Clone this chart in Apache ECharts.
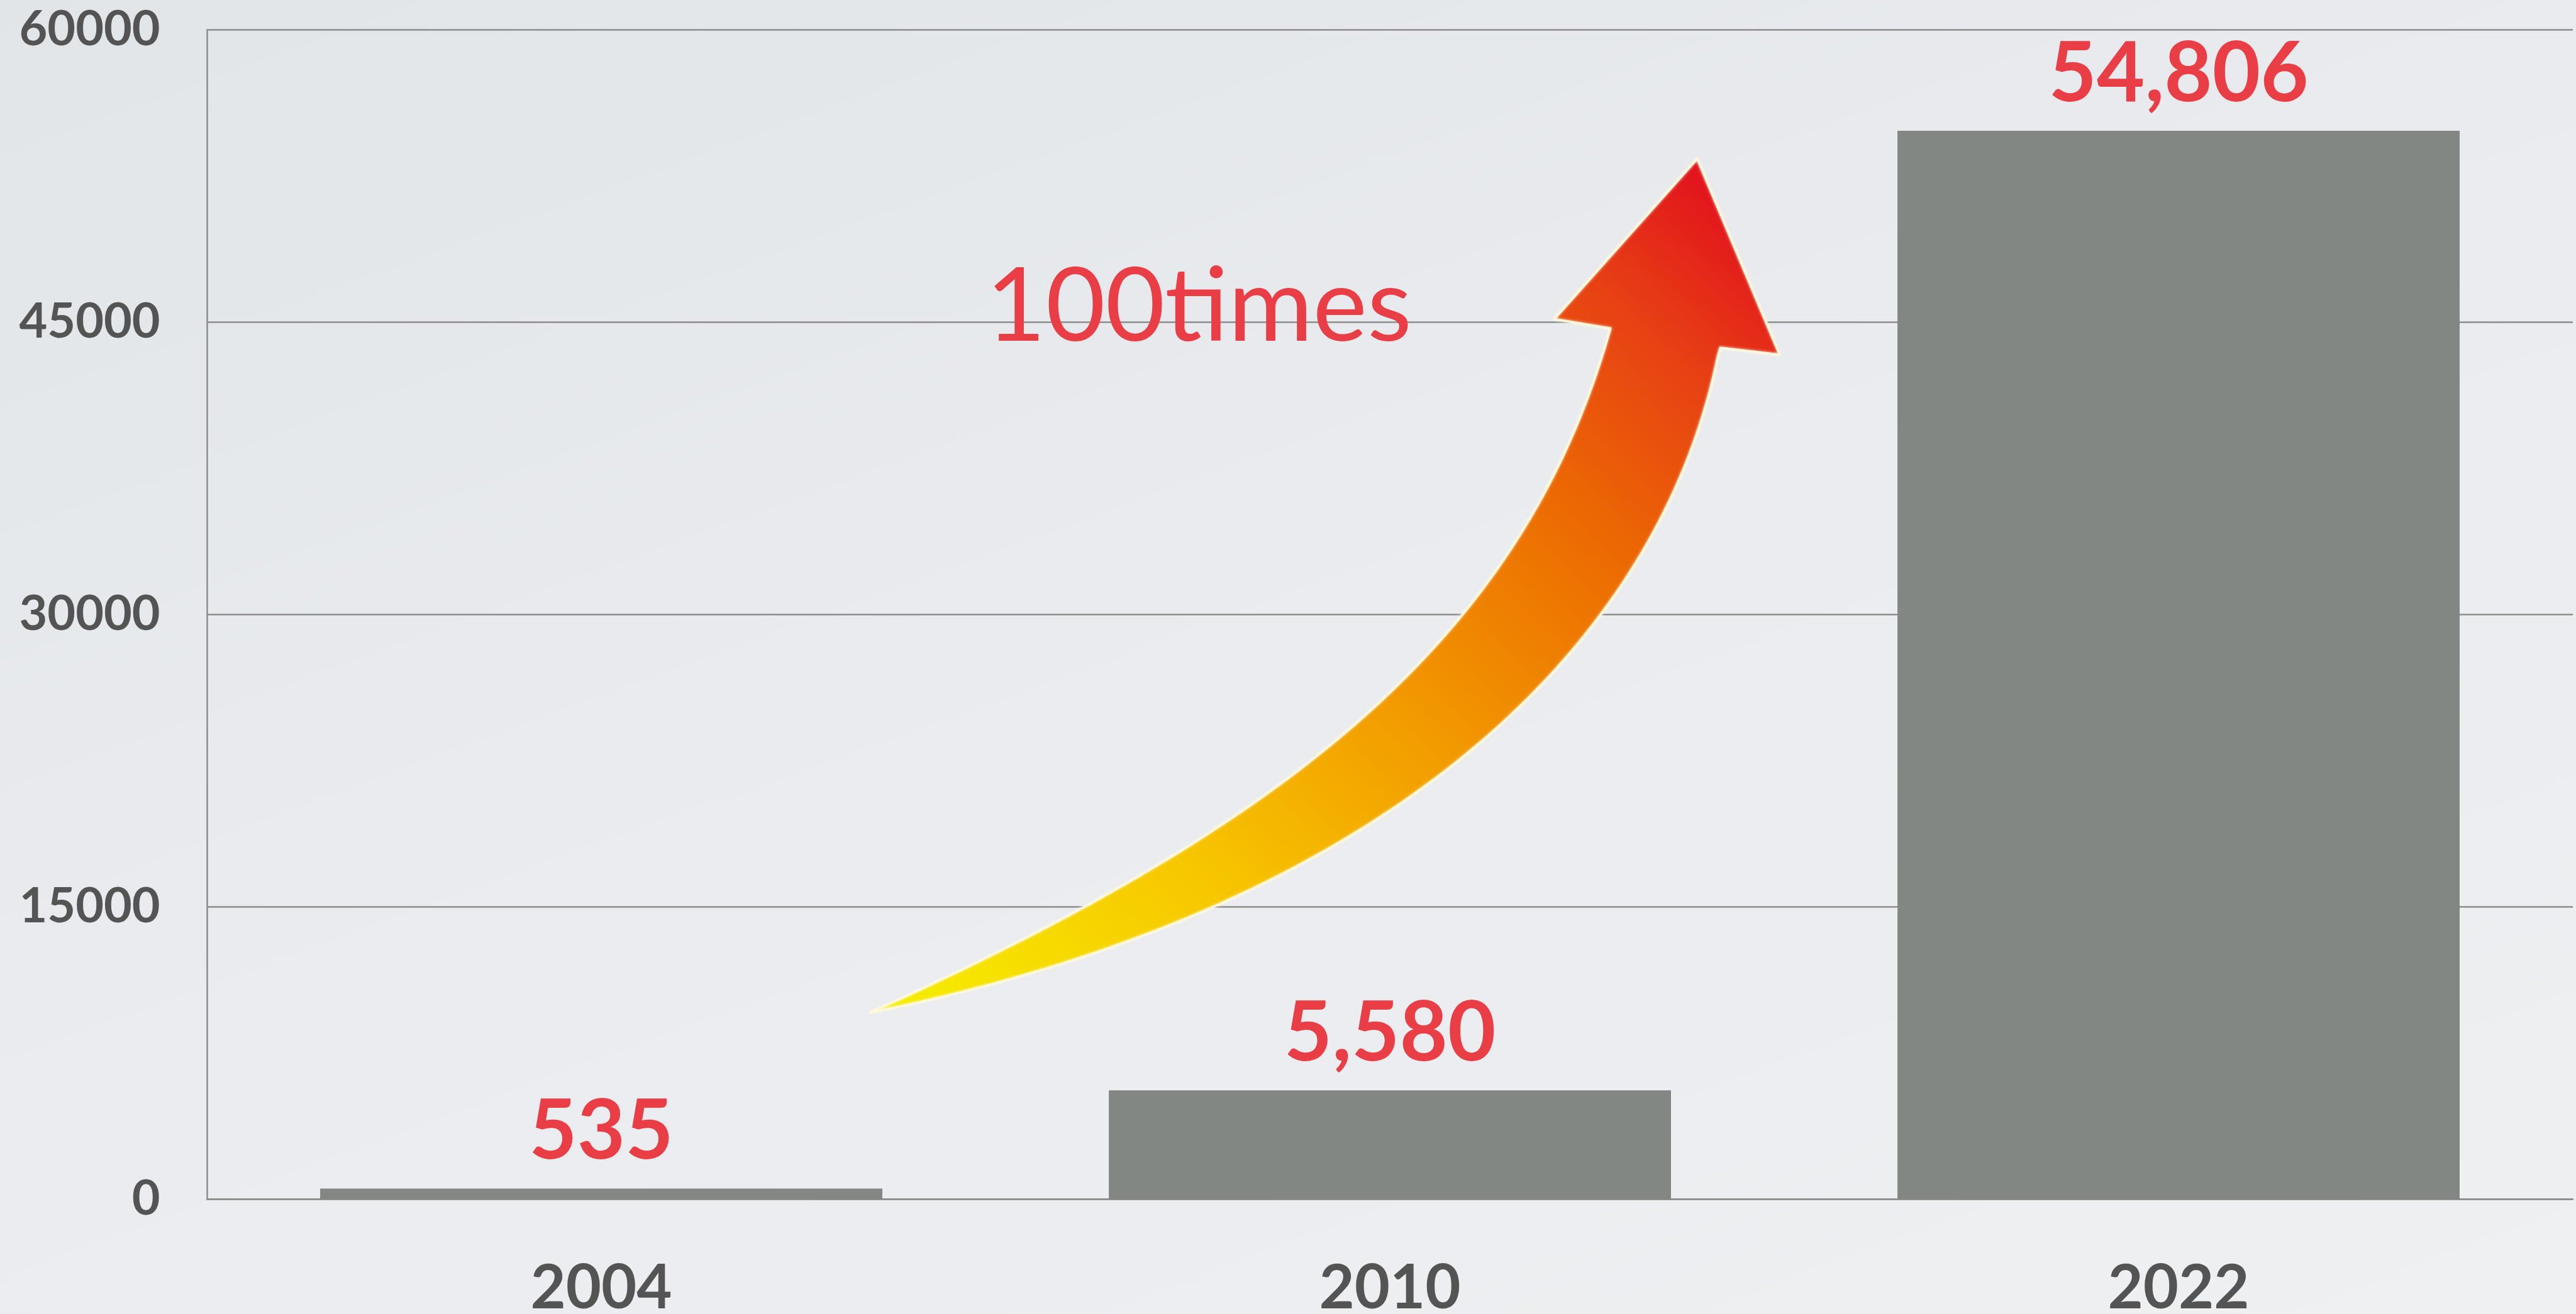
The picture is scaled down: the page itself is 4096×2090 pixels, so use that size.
<!DOCTYPE html>
<html>
<head>
<meta charset="utf-8">
<title>Growth 2004–2022</title>
<script src="https://cdn.jsdelivr.net/npm/echarts@6/dist/echarts.min.js"></script>
<style>
  html, body { margin: 0; padding: 0; }
  body {
    width: 4096px; height: 2090px; overflow: hidden;
    background: linear-gradient(160deg, #E2E5E8 0%, #E9EBEE 45%, #EFF0F2 100%);
  }
  #chart { width: 4096px; height: 2090px; }
</style>
</head>
<body>
<div id="chart"></div>
<script>
// ---- data ----
const categories = ['2004', '2010', '2022'];
const values = [535, 5580, 54806];
const yTickValues = [0, 15000, 30000, 45000, 60000];
const annotationText = '100times';

// ---- layout scale (drawing units -> window pixels) ----
const S = 4096 / 4133;

// Curved growth arrow, in drawing units: two cubic edges joined by the head.
const arrowUpperEdge = [[1396, 1625], [2096, 1310], [2449, 1007], [2584, 527]];
const arrowHead = [[2494, 512], [2723, 255], [2855, 569], [2760, 558]];
const arrowLowerEdge = [[2756, 572], [2656, 1060], [2196, 1465], [1396, 1625]];

function cubic(c, steps) {
  const out = [];
  for (let k = 0; k <= steps; k++) {
    const t = k / steps, u = 1 - t;
    const a = u * u * u, b = 3 * u * u * t, d = 3 * u * t * t, e = t * t * t;
    out.push([
      a * c[0][0] + b * c[1][0] + d * c[2][0] + e * c[3][0],
      a * c[0][1] + b * c[1][1] + d * c[2][1] + e * c[3][1]
    ]);
  }
  return out;
}

const arrowPoints = []
  .concat(cubic(arrowUpperEdge, 80))
  .concat(arrowHead)
  .concat(cubic(arrowLowerEdge, 80).slice(0, -1))
  .map(p => [p[0] * S, p[1] * S]);

const red = '#E93E46';
const axisGray = '#8C8C8C';
const labelGray = '#545454';
const font = 'Lato, "Open Sans", sans-serif';

const chart = echarts.init(document.getElementById('chart'), null, { renderer: 'canvas' });

chart.setOption({
  backgroundColor: 'transparent',
  animation: false,
  grid: {
    left: 332 * S, right: 5 * S, top: 47.5 * S, bottom: (2109 - 1924.5) * S,
    containLabel: false, outerBoundsMode: 'none'
  },
  xAxis: {
    type: 'category',
    data: categories,
    axisTick: { show: false },
    axisLine: { show: true, lineStyle: { color: axisGray, width: 2.5 } },
    axisLabel: {
      color: labelGray, fontFamily: font, fontWeight: 'bold',
      fontSize: 98 * S, margin: 95 * S
    }
  },
  yAxis: {
    type: 'value',
    min: yTickValues[0],
    max: yTickValues[yTickValues.length - 1],
    interval: yTickValues[1] - yTickValues[0],
    axisTick: { show: false },
    axisLine: { show: true, lineStyle: { color: axisGray, width: 2.5 } },
    splitLine: { show: true, lineStyle: { color: axisGray, width: 2.5 } },
    axisLabel: {
      color: labelGray, fontFamily: font, fontWeight: 'bold',
      fontSize: 78 * S, margin: 75 * S,
      formatter: v => String(v)
    }
  },
  series: [{
    type: 'bar',
    data: values,
    barWidth: 902 * S,
    itemStyle: { color: '#828784' },
    label: {
      show: true,
      position: 'top',
      distance: 24 * S,
      color: red,
      fontFamily: font,
      fontWeight: 'bold',
      fontSize: 133 * S,
      formatter: p => p.value.toLocaleString('en-US')
    }
  }],
  graphic: [
    {
      type: 'polygon',
      z: 20,
      shape: { points: arrowPoints },
      style: {
        fill: {
          type: 'linear', x: 0, y: 1, x2: 0.88, y2: 0,
          colorStops: [
            { offset: 0, color: '#F6F000' },
            { offset: 0.28, color: '#F7C600' },
            { offset: 0.5, color: '#F29A00' },
            { offset: 0.72, color: '#EC6A02' },
            { offset: 0.88, color: '#E74014' },
            { offset: 1, color: '#E2161C' }
          ]
        },
        stroke: 'rgba(255,248,220,0.95)',
        lineWidth: 3.5,
        lineJoin: 'round',
        shadowBlur: 4,
        shadowColor: 'rgba(255,250,225,0.9)'
      }
    },
    {
      type: 'text',
      z: 21,
      style: {
        text: annotationText,
        x: 1582 * S,
        y: 494 * S,
        fill: red,
        fontFamily: font,
        fontWeight: 'normal',
        fontSize: 165 * S,
        align: 'left',
        verticalAlign: 'middle'
      }
    }
  ]
});
</script>
</body>
</html>
